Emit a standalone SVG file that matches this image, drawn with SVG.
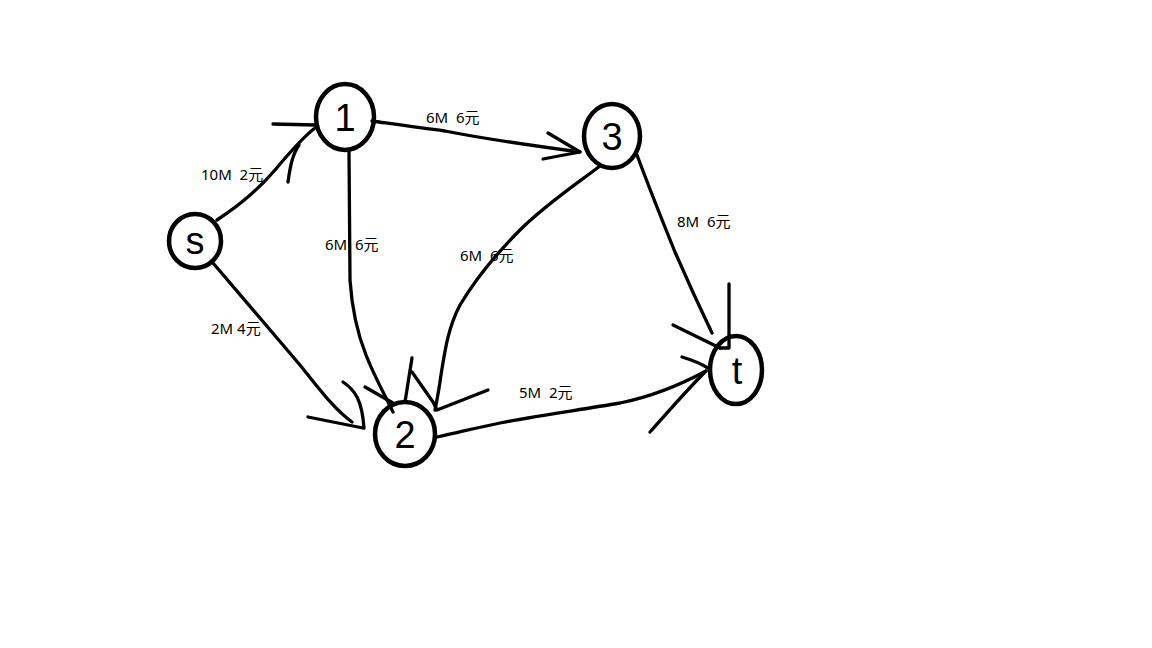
<svg xmlns="http://www.w3.org/2000/svg" width="1152" height="648" viewBox="0 0 1152 648">
<style>
.node{fill:none;stroke:#000;stroke-width:4.5}
.lbl{font-family:"Liberation Sans","Noto Sans",sans-serif;font-size:38px;fill:#000;text-anchor:middle}
.e{fill:none;stroke:#000;stroke-width:3.3;stroke-linecap:round;stroke-linejoin:round}
.t{font-family:"Noto Sans","Noto Sans CJK SC",sans-serif;font-size:15px;fill:#000}
</style>
<rect width="1152" height="648" fill="#fff"/>
<g id="connectors">
<!-- s to 1 -->
<path class="e" d="M217,220 C240,205 258,190 275,170 C290,152 302,138 315,128"/>
<path class="e" d="M273,124 L315,125"/>
<path class="e" d="M288,182 C290,168 292,155 299,145"/>
<!-- 1 to 3 -->
<path class="e" d="M372,121 C400,125 420,128 445,131 C480,138 520,144 580,152"/>
<path class="e" d="M548,133 L580,152 L543,159"/>
<!-- 1 to 2 -->
<path class="e" d="M349,151 L350,280 C352,310 358,335 366,355 C375,378 385,395 393,412"/>
<path class="e" d="M365,387 L393,403"/>
<path class="e" d="M412,358 L405,402"/>
<!-- s to 2 -->
<path class="e" d="M213,263 C240,295 270,330 300,365 C320,390 335,410 352,422"/>
<path class="e" d="M308,417 L363,428"/>
<path class="e" d="M343,382 C355,390 362,400 364,428"/>
<!-- 3 to 2 -->
<path class="e" d="M600,166 C575,185 545,205 520,230 C495,255 475,280 460,305 C448,328 445,350 441,375 C439,390 437,400 435,410"/>
<path class="e" d="M412,372 L433,402 L437,410 L488,390"/>
<!-- 3 to t -->
<path class="e" d="M637,155 C650,190 662,220 675,252 C688,282 700,308 712,333"/>
<path class="e" d="M729,284 L729,348 L720,348"/>
<path class="e" d="M673,325 L720,348"/>
<!-- 2 to t -->
<path class="e" d="M437,437 C460,432 480,427 500,423 C540,415 580,410 620,403 C650,397 680,385 706,371"/>
<path class="e" d="M682,357 C692,360 700,363 708,368"/>
<path class="e" d="M650,432 C668,412 685,392 706,371"/>
</g>
<g id="edge-labels">
<text class="t" x="201" y="180" xml:space="preserve">10M  2元</text>
<text class="t" x="426" y="123" xml:space="preserve">6M  6元</text>
<text class="t" x="325" y="250" xml:space="preserve">6M  6元</text>
<text class="t" x="460" y="261" xml:space="preserve">6M  6元</text>
<text class="t" x="677" y="227" xml:space="preserve">8M  6元</text>
<text class="t" x="211" y="334" xml:space="preserve">2M 4元</text>
<text class="t" x="519" y="398" xml:space="preserve">5M  2元</text>
</g>
<g id="node-s">
<ellipse class="node" cx="195" cy="241" rx="26" ry="27"/>
<text class="lbl" x="195" y="254">s</text>
</g>
<g id="node-1">
<ellipse class="node" cx="345" cy="117" rx="29" ry="33"/>
<text class="lbl" x="345" y="131">1</text>
</g>
<g id="node-2">
<ellipse class="node" cx="405" cy="434" rx="30" ry="32"/>
<text class="lbl" x="405" y="448">2</text>
</g>
<g id="node-3">
<ellipse class="node" cx="612" cy="136" rx="28" ry="32"/>
<text class="lbl" x="612" y="150">3</text>
</g>
<g id="node-t">
<ellipse class="node" cx="736" cy="370" rx="26" ry="34"/>
<text class="lbl" x="737" y="384">t</text>
</g>
</svg>
